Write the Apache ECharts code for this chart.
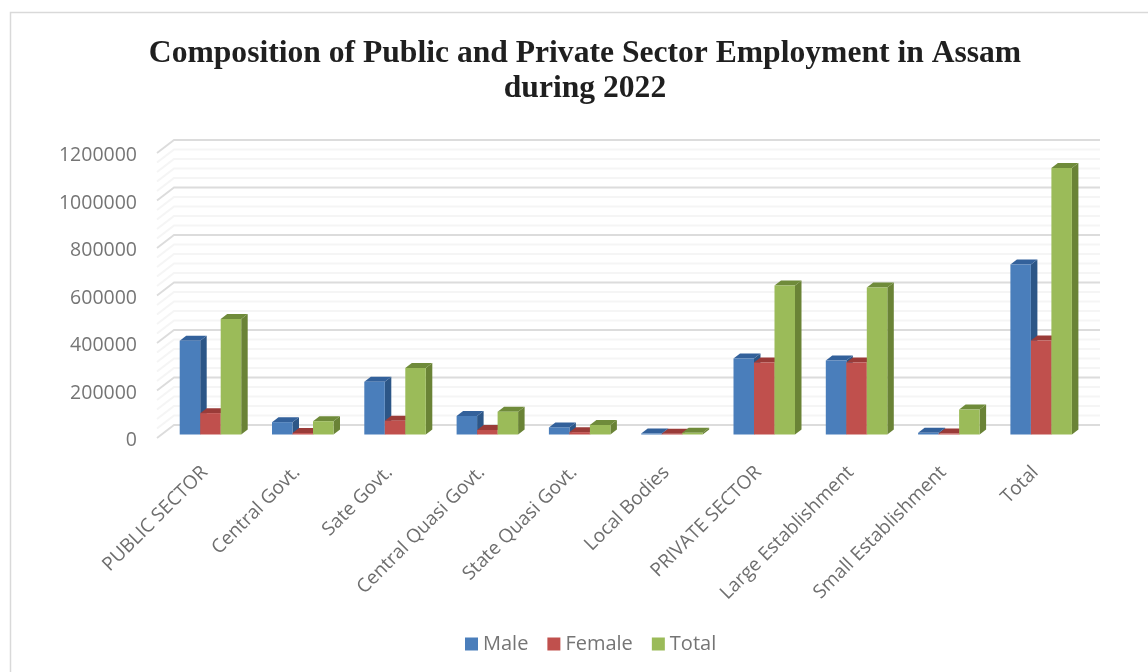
<!DOCTYPE html>
<html><head><meta charset="utf-8">
<style>html,body{margin:0;padding:0;background:#fff}#c{width:1148px;height:672px}</style>
<script src="https://cdn.jsdelivr.net/npm/echarts@6/dist/echarts.min.js"></script>
</head><body><div id="c"></div>
<script>
const categories = ['PUBLIC SECTOR','Central Govt.','Sate Govt.','Central Quasi Govt.','State Quasi Govt.','Local Bodies','PRIVATE SECTOR','Large Establishment','Small Establishment','Total'];
const male   = [395000, 52000, 222000, 78000, 30000, 4000, 320000, 312000, 7000, 716000];
const female = [ 90000,  6000,  58000, 19000, 10000, 3000, 303000, 303000, 4000, 396000];
const total  = [486000, 56000, 280000, 96000, 40000, 7000, 627000, 619000, 105000, 1122000];
const gridValues = [];
for (let v = 0; v <= 1200000; v += 40000) gridValues.push(v);

const WALL_DX = 17, WALL_DY = 13, BAR_SHIFT_X = 4.3, BAR_SHIFT_Y = -3.5, BAR_W = 20.5, DEPTH_X = 6.5, DEPTH_Y = 5;

function wallItem(params, api) {
  const v = api.value(0);
  const band = api.size([1, 0])[0];
  const first = api.coord([0, v]);
  const last = api.coord([categories.length - 1, v]);
  const x0 = first[0] - band / 2 - 3, y0 = first[1], x1 = last[0] + band / 2;
  const major = v % 200000 === 0;
  return {
    type: 'polyline',
    shape: { points: [[x0, y0], [x0 + WALL_DX, y0 - WALL_DY], [x1 + WALL_DX, y0 - WALL_DY]] },
    style: { fill: null, stroke: major ? '#dcdcdc' : '#f5f5f5', lineWidth: major ? 1.8 : 2 },
    silent: true
  };
}
function barRenderer(seriesIdx, front, side, top) {
  return function (params, api) {
    const p = api.coord([api.value(0), api.value(1)]);
    const base = api.coord([api.value(0), 0]);
    const left = p[0] + BAR_SHIFT_X + (seriesIdx - 1.5) * BAR_W;
    const right = left + BAR_W;
    const yt = p[1] + BAR_SHIFT_Y, yb = base[1] + BAR_SHIFT_Y;
    const dx = DEPTH_X, dy = DEPTH_Y;
    return { type: 'group', children: [
      { type: 'polygon', shape: { points: [[right, yt], [right + dx, yt - dy], [right + dx, yb - dy], [right, yb]] }, style: { fill: side } },
      { type: 'polygon', shape: { points: [[left, yt], [left + dx, yt - dy], [right + dx, yt - dy], [right, yt]] }, style: { fill: top } },
      { type: 'rect', shape: { x: left, y: yt, width: BAR_W, height: yb - yt }, style: { fill: front } }
    ]};
  };
}
function barSeries(name, values, idx, front, side, top) {
  return { name, type: 'custom', renderItem: barRenderer(idx, front, side, top), encode: { x: 0, y: 1 },
    data: values.map((v, i) => [i, v]), itemStyle: { color: front }, z: 3 + idx, clip: false };
}
const chart = echarts.init(document.getElementById('c'), null, { renderer: 'canvas' });
chart.setOption({
  animation: false,
  backgroundColor: '#fff',
  title: {
    text: 'Composition of Public and Private Sector Employment in Assam\nduring 2022',
    left: 580, top: 31, textAlign: 'center',
    textStyle: { fontFamily: 'Liberation Serif', fontWeight: 'bold', fontSize: 31.6, lineHeight: 35, color: '#1f1f1f' }
  },
  legend: {
    left: 465, top: 634, padding: 0, itemWidth: 13, itemHeight: 13, itemGap: 19, icon: 'rect',
    data: ['Male', 'Female', 'Total'],
    textStyle: { fontFamily: 'Open Sans', fontSize: 20, color: '#757575' }
  },
  grid: [
    { left: 160, width: 923, top: 153, height: 285 },
    { left: 160, width: 923, top: 155.5, height: 285 }
  ],
  xAxis: [
    { type: 'category', gridIndex: 0, data: categories, axisLine: { show: false }, axisTick: { show: false }, splitLine: { show: false },
      axisLabel: { rotate: 45, interval: 0, margin: 30, padding: [0, 2, 0, 0], fontFamily: 'Open Sans', fontSize: 19, color: '#6e6e6e' } },
    { type: 'category', gridIndex: 1, data: categories, show: false }
  ],
  yAxis: [
    { type: 'value', gridIndex: 0, min: 0, max: 1200000, interval: 200000, axisLine: { show: false }, axisTick: { show: false }, splitLine: { show: false }, axisLabel: { show: false } },
    { type: 'value', gridIndex: 1, min: 0, max: 1200000, interval: 200000, axisLine: { show: false }, axisTick: { show: false }, splitLine: { show: false },
      axisLabel: { margin: 23, fontFamily: 'Open Sans', fontSize: 19.5, color: '#757575', formatter: v => String(v) } }
  ],
  graphic: [{ type: 'rect', shape: { x: 10.5, y: 12.5, width: 1200, height: 680 }, style: { fill: null, stroke: '#d9d9d9', lineWidth: 1.5 }, silent: true }],
  series: [
    { name: 'walls', type: 'custom', renderItem: wallItem, encode: { y: 0 }, data: gridValues.map(v => [v]), z: 1, clip: false, silent: true },
    barSeries('Male', male, 0, '#4a7ebb', '#2c5687', '#33619b'),
    barSeries('Female', female, 1, '#c0504d', '#8c3836', '#9a3b38'),
    barSeries('Total', total, 2, '#9bbb59', '#6a8336', '#6f8b3a')
  ]
});
</script></body></html>
